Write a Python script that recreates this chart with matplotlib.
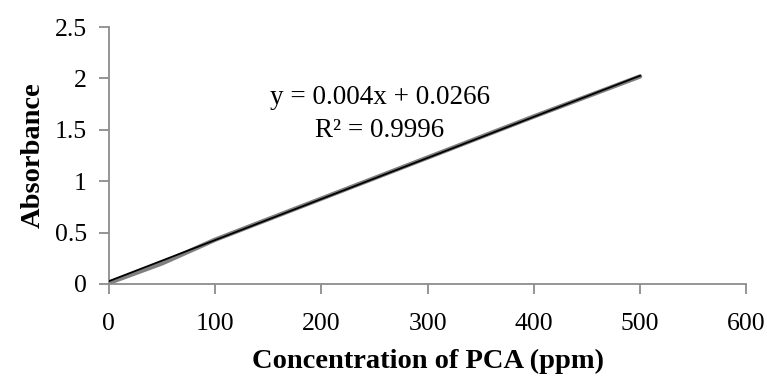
import matplotlib
matplotlib.use("Agg")
import matplotlib.pyplot as plt
import numpy as np

conc = [0, 50, 100, 200, 300, 400, 500]
absorb = [0.01, 0.20, 0.43, 0.83, 1.23, 1.63, 2.02]
slope = 0.004
intercept = 0.0266
eq_text = "y = 0.004x + 0.0266\nR² = 0.9996"
x_ticks = [0, 100, 200, 300, 400, 500, 600]
y_ticks = [0, 0.5, 1, 1.5, 2, 2.5]
y_tick_labels = ["0", "0.5", "1", "1.5", "2", "2.5"]

plt.rcParams['font.family'] = ['Liberation Serif', 'DejaVu Serif']

fig = plt.figure(figsize=(7.67, 3.77), dpi=100)
ax = fig.add_axes([0.142, 0.247, 0.831, 0.681])

ax.plot(conc, absorb, color="#7f7f7f", lw=3.2, solid_capstyle="round", zorder=2)
xt = np.array([conc[0], conc[-1]])
ax.plot(xt, slope * xt + intercept, color="black", lw=1.3, zorder=3)

ax.set_xlim(0, 600)
ax.set_ylim(0, 2.5)
ax.set_xticks(x_ticks)
ax.set_yticks(y_ticks)
ax.set_yticklabels(y_tick_labels)
for s in ["top", "right"]:
    ax.spines[s].set_visible(False)
for s in ["left", "bottom"]:
    ax.spines[s].set_color("#8c8c8c")
    ax.spines[s].set_linewidth(1.3)
ax.tick_params(colors="#8c8c8c", labelcolor="black", labelsize=18.5, length=7, width=1.3)
ax.tick_params(axis="x", pad=14)
ax.tick_params(axis="y", pad=9)

ax.set_xlabel("Concentration of PCA (ppm)", fontsize=20.5, fontweight="bold", labelpad=10)
ax.set_ylabel("Absorbance", fontsize=20.5, fontweight="bold", labelpad=6)

fig.text(380 / 767, 1 - 114 / 377, eq_text, ha="center", va="center",
         fontsize=19.5, linespacing=1.45)

fig.savefig("out.png", dpi=100)
